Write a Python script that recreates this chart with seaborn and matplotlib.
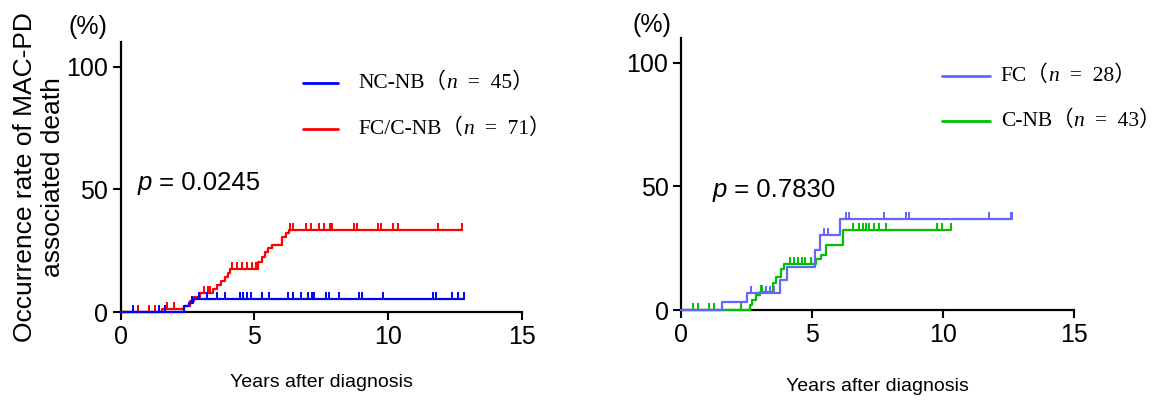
import numpy as np
import matplotlib
matplotlib.use("Agg")
import matplotlib.pyplot as plt
import seaborn as sns

sns.set_style("ticks")
plt.rcParams['font.family'] = ['Liberation Sans', 'DejaVu Sans']
plt.rcParams['text.color'] = 'black'
plt.rcParams['axes.labelcolor'] = 'black'
plt.rcParams['xtick.color'] = 'black'
plt.rcParams['ytick.color'] = 'black'

SERIF_CJK = ['Liberation Serif', 'Noto Sans CJK JP']
TICK_SIZE = 18
LEGEND_SIZE = 15.5

# ---- data, years / % ----
x_ticks = [0, 5, 10, 15]
y_ticks = [0, 50, 100]

# left panel
nc_nb_step_t = [2.35, 2.55, 2.7]
nc_nb_step_y = [2.4, 3.7, 5.3]
nc_nb_cens = [0.47, 1.44, 1.67, 2.67, 2.94, 3.23, 3.6, 3.92, 4.48, 4.57, 4.74, 4.86,
              5.3, 5.55, 6.24, 6.43, 6.74, 7.0, 7.15, 7.23, 7.68, 7.8, 8.17, 8.92,
              9.03, 9.82, 11.7, 11.8, 12.38, 12.6, 12.84]

fc_cnb_step_t = [1.55, 2.35, 2.6, 2.75, 2.95, 3.45, 3.6, 3.75, 3.9, 4.0, 4.1,
                 5.15, 5.3, 5.4, 5.5, 5.65, 6.05, 6.2, 6.3]
fc_cnb_step_y = [1.3, 2.6, 4.3, 6.0, 7.6, 9.5, 11.0, 12.6, 14.3, 16.0, 17.7,
                 20.4, 22.5, 24.5, 26.0, 27.5, 30.6, 32.0, 33.5]
fc_cnb_cens = [0.65, 1.05, 1.3, 1.75, 2.0, 3.1, 3.25, 3.35, 4.17, 4.36, 4.55, 4.74,
               4.92, 5.05, 6.34, 6.43, 6.93, 7.12, 7.43, 7.59, 7.84, 7.89, 8.72,
               8.85, 9.62, 9.75, 10.19, 10.38, 11.88, 12.78]

# right panel
fc_step_t = [1.58, 2.52, 3.77, 4.03, 5.1, 5.3, 6.07]
fc_step_y = [3.4, 6.8, 12.1, 17.5, 24.3, 30.2, 36.8]
fc_cens = [2.69, 3.26, 3.39, 3.54, 5.45, 5.6, 6.3, 6.43, 7.76, 8.58, 8.71,
           11.75, 12.58, 12.63]

cnb_step_t = [2.63, 2.72, 2.87, 3.0, 3.5, 3.64, 3.83, 3.95, 5.15, 5.34, 5.53, 6.17]
cnb_step_y = [2.0, 4.0, 6.0, 7.4, 10.8, 13.5, 16.4, 18.6, 20.5, 22.3, 26.3, 32.4]
cnb_cens = [0.46, 0.65, 1.06, 1.27, 2.3, 3.05, 3.1, 4.15, 4.3, 4.45, 4.6, 4.75, 4.95,
            6.55, 6.78, 6.93, 7.06, 7.19, 7.38, 7.57, 7.82, 9.78, 9.97, 10.3]

left_groups = [("FC/C-NB", "71", fc_cnb_step_t, fc_cnb_step_y, fc_cnb_cens, "#ff0000"),
               ("NC-NB", "45", nc_nb_step_t, nc_nb_step_y, nc_nb_cens, "#0000ff")]
right_groups = [("C-NB", "43", cnb_step_t, cnb_step_y, cnb_cens, "#00c000"),
                ("FC", "28", fc_step_t, fc_step_y, fc_cens, "#6464ff")]


def km_curve(ax, step_t, step_y, cens, color):
    end = max(cens)
    xs = [0] + list(step_t) + [end]
    ys = [0] + list(step_y) + [step_y[-1]]
    sns.lineplot(x=xs, y=ys, drawstyle='steps-post', color=color, lw=1.6,
                 estimator=None, sort=False, ax=ax)
    levels = np.array([0] + list(step_y))
    cy = levels[np.searchsorted(step_t, cens, side='right')]
    # tick-up markers for censored cases
    sns.lineplot(x=cens, y=cy, marker=2, linestyle='', markersize=5, mew=1.4,
                 mec=color, color=color, estimator=None, sort=False, ax=ax)
    for ln in ax.get_lines():
        ln.set_clip_on(False)
        ln.set_zorder(3)


def rich(ax, x, y, parts, size, family):
    t = ax.text(x, y, parts[0][0], transform=ax.transAxes, fontsize=size,
                family=family, style=parts[0][1], va='center', ha='left')
    for s, st in parts[1:]:
        t = ax.annotate(s, xy=(1, 0), xycoords=t, va='bottom', ha='left',
                        fontsize=size, family=family, style=st)


def legend(ax, groups, x0, x1, xt, ys):
    for (name, n, _, _, _, color), y in zip(groups, ys):
        ax.plot([x0, x1], [y, y], color=color, lw=2, transform=ax.transAxes, clip_on=False)
        rich(ax, xt, y, [(name + "（", 'normal'), ("n", 'italic'), ("  =  " + n + "）", 'normal')],
             LEGEND_SIZE, SERIF_CJK)


def style_axes(ax):
    sns.despine(ax=ax)
    ax.set_xlim(0, 15)
    ax.set_ylim(0, 110)
    ax.set_xticks(x_ticks)
    ax.set_yticks(y_ticks)
    ax.tick_params(labelsize=TICK_SIZE, width=1.5, length=6, pad=3, color='black')
    for s in ['left', 'bottom']:
        ax.spines[s].set_linewidth(1.6)
        ax.spines[s].set_color('black')
        ax.spines[s].set_zorder(2)


fig = plt.figure(figsize=(11.7, 4.03), dpi=100)
ax1 = fig.add_axes([120.7 / 1170, 1 - 312 / 403, 401 / 1170, 270 / 403])
ax2 = fig.add_axes([681 / 1170, 1 - 310 / 403, 393 / 1170, 272 / 403])

for ax, groups in [(ax1, left_groups), (ax2, right_groups)]:
    for name, n, st, sy, cens, color in groups:
        km_curve(ax, st, sy, cens, color)
    style_axes(ax)
    ax.set_xlabel("Years after diagnosis", fontsize=14, va='top')
    ax.set_ylabel("")

ax1.xaxis.set_label_coords(0.5, -0.228)
ax2.xaxis.set_label_coords(0.5, -0.25)

# legends (order as in the picture)
legend(ax1, left_groups[::-1], 0.455, 0.542, 0.592, [0.848, 0.678])
legend(ax2, right_groups[::-1], 0.663, 0.786, 0.814, [0.861, 0.695])

# p values
rich(ax1, 0.043, 0.478, [("p", 'italic'), (" = 0.0245", 'normal')], 18.5, ['Liberation Sans'])
rich(ax2, 0.081, 0.44, [("p", 'italic'), (" = 0.7830", 'normal')], 18.5, ['Liberation Sans'])

fig.text(88 / 1170, 1 - 27 / 403, "(%)", ha='center', va='center', fontsize=18)
fig.text(652 / 1170, 1 - 25 / 403, "(%)", ha='center', va='center', fontsize=18)
fig.text(39 / 1170, 1 - 177 / 403, "Occurrence rate of MAC-PD\nassociated death",
         ha='center', va='center', rotation=90, fontsize=19, multialignment='center',
         linespacing=1.2)

fig.savefig("out.png", dpi=100)
